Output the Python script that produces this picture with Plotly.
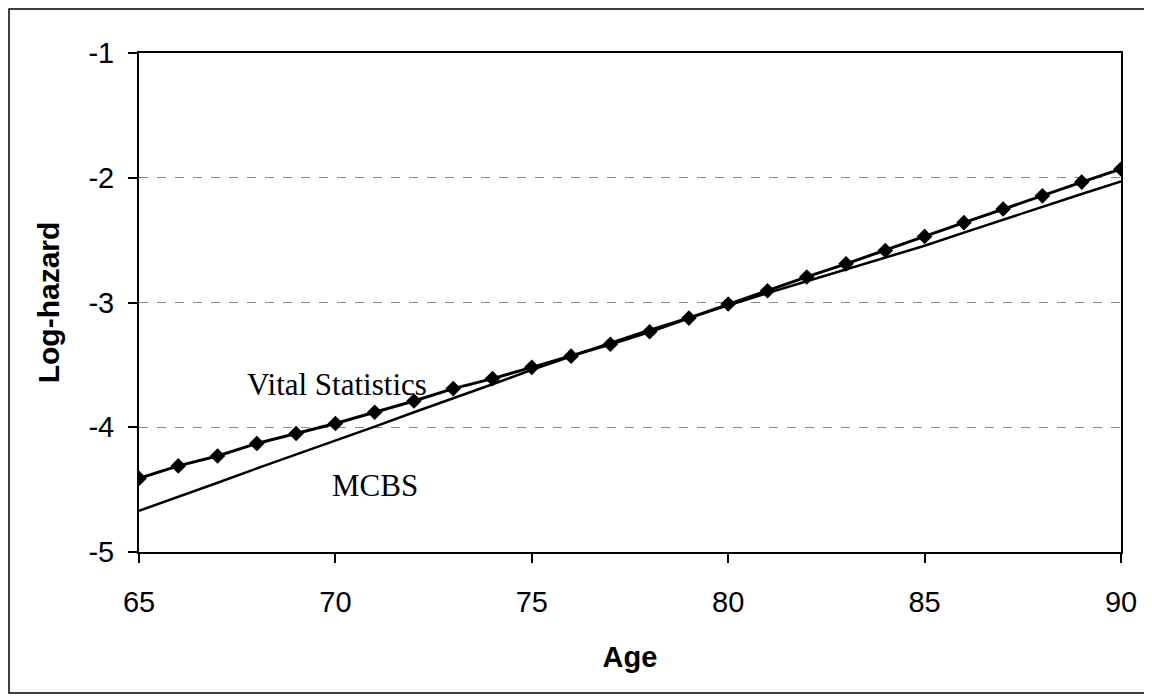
import plotly.graph_objects as go

ages = list(range(65, 91))
vital_statistics = [-4.41, -4.31, -4.23, -4.13, -4.05, -3.97, -3.88, -3.79, -3.69, -3.61,
                    -3.52, -3.43, -3.335, -3.235, -3.125, -3.012, -2.906, -2.795, -2.69, -2.583,
                    -2.47, -2.36, -2.25, -2.145, -2.035, -1.93]
mcbs = [-4.67, -4.56, -4.445, -4.33, -4.22, -4.11, -3.995, -3.88, -3.77, -3.655,
        -3.54, -3.43, -3.325, -3.22, -3.12, -3.02, -2.925, -2.83, -2.735, -2.64,
        -2.545, -2.44, -2.335, -2.23, -2.13, -2.03]
x_ticks = [65, 70, 75, 80, 85, 90]
y_ticks = [-5, -4, -3, -2, -1]
y_tick_labels = ["-5", "-4", "-3", "-2", "-1"]

fig = go.Figure()
fig.add_trace(go.Scatter(x=ages, y=mcbs, mode="lines", name="MCBS",
                         line=dict(color="black", width=2.5)))
fig.add_trace(go.Scatter(x=ages, y=vital_statistics, mode="lines+markers", name="Vital Statistics",
                         line=dict(color="black", width=3),
                         marker=dict(symbol="diamond", size=12, color="black")))

axis_font = dict(family="Liberation Sans, Arial, sans-serif", size=29, color="black")
x_title_font = dict(family="Liberation Sans, Arial, sans-serif", size=29, color="black", weight="bold")
y_title_font = dict(family="Liberation Sans, Arial, sans-serif", size=30, color="black", weight="bold")
serif_font = dict(family="Liberation Serif, Times New Roman, serif", size=31, color="black")

W, H = 1144, 692
fig.update_layout(
    width=W, height=H,
    margin=dict(l=131, r=31, t=45, b=148),
    paper_bgcolor="white", plot_bgcolor="white",
    showlegend=False,
    xaxis=dict(range=[65, 90], tickvals=x_ticks, ticks="outside", ticklen=9, tickwidth=1.5,
               tickcolor="black", showline=True, linecolor="black", linewidth=2, mirror=True,
               showgrid=False, zeroline=False, tickfont=axis_font, ticklabelstandoff=14,
               title=dict(text="Age", font=x_title_font, standoff=30)),
    yaxis=dict(range=[-5, -1], tickvals=y_ticks, ticktext=y_tick_labels, ticks="outside",
               ticklen=9, tickwidth=1.5,
               tickcolor="black", showline=True, linecolor="black", linewidth=2, mirror=True,
               showgrid=True, gridcolor="#8a8a8a", gridwidth=1, griddash="dash",
               zeroline=False, tickfont=axis_font, ticklabelstandoff=8,
               title=dict(text="Log-hazard", font=y_title_font, standoff=20)),
    annotations=[
        dict(x=70.05, y=-3.66, xref="x", yref="y", text="Vital Statistics", showarrow=False,
             xanchor="center", yanchor="middle", font=serif_font),
        dict(x=71.0, y=-4.47, xref="x", yref="y", text="MCBS", showarrow=False,
             xanchor="center", yanchor="middle", font=serif_font),
    ],
    shapes=[dict(type="rect", xref="paper", yref="paper",
                 x0=(1 - 131) / (W - 131 - 31), x1=(1138 - 131) / (W - 131 - 31),
                 y0=(148 - 7) / (H - 45 - 148) * -1 + 0, y1=1 + (45 - 1) / (H - 45 - 148),
                 line=dict(color="black", width=1.5), layer="below")],
)

fig.write_html("out.html")
